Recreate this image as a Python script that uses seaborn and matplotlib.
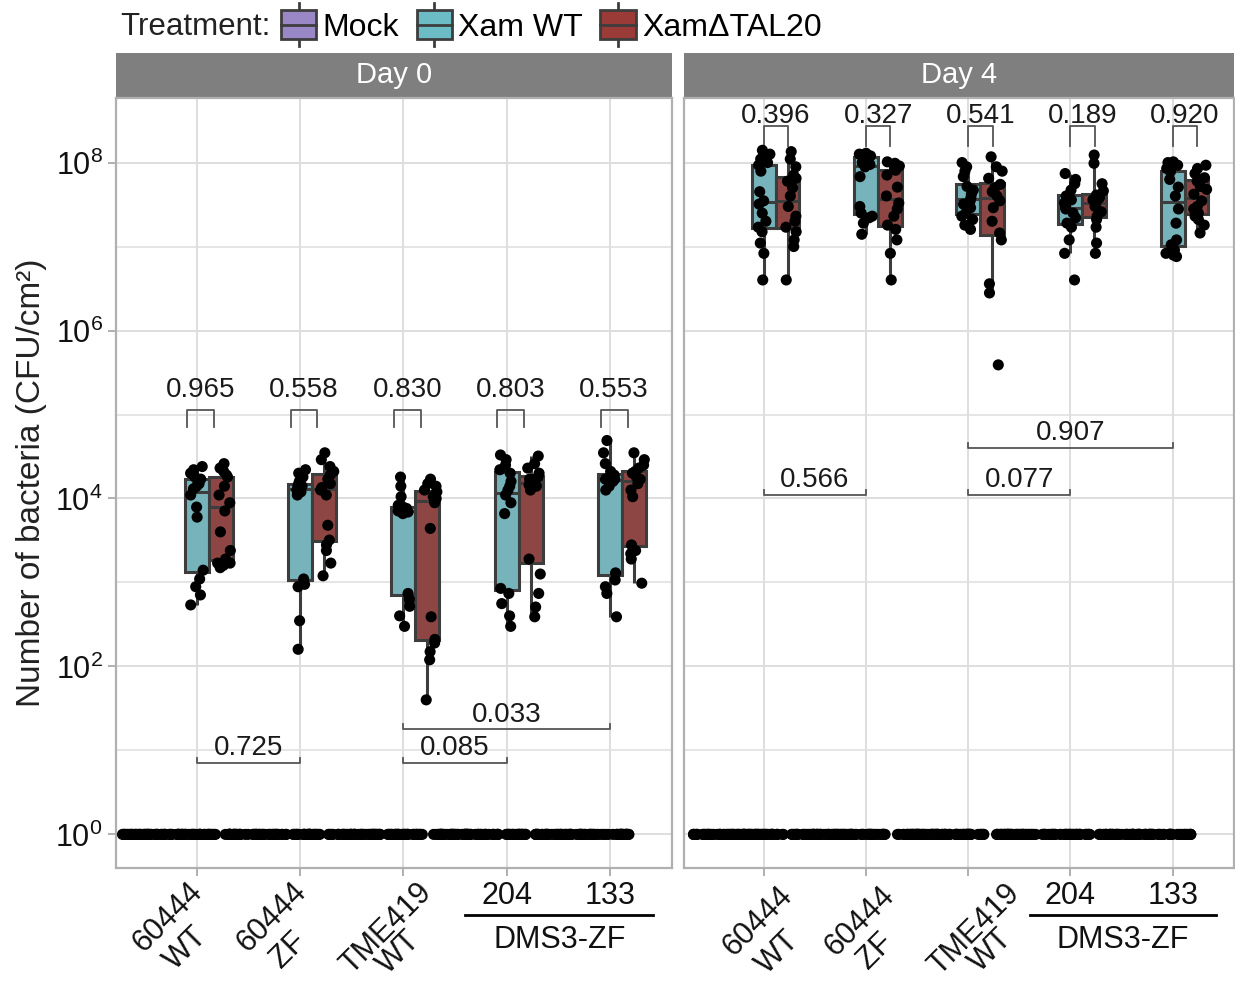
import numpy as np
import pandas as pd
import matplotlib
matplotlib.use("Agg")
import matplotlib.pyplot as plt
import seaborn as sns
from matplotlib.patches import Rectangle, Patch
from matplotlib.lines import Line2D
from matplotlib.legend_handler import HandlerBase
from matplotlib.ticker import FixedLocator, NullFormatter

genotypes = ["60444 WT", "60444 ZF", "TME419 WT", "204", "133"]
tick_labels = ["", "", "", "204", "133"]
rot_lines = [("60444", "WT"), ("60444", "ZF"), ("TME419", "WT")]
treatments = ["Mock", "Xam WT", "XamΔTAL20"]
days = ["Day 0", "Day 4"]
palette = {"Mock": "#9A88C6", "Xam WT": "#6CBCC6", "XamΔTAL20": "#9A3B38"}

# CFU/cm2, one list per genotype (order as genotypes)
d0_xam_wt = [
    [5.4e2, 7.1e2, 8.9e2, 1.1e3, 1.4e3, 6.0e3, 7.9e3, 1.1e4, 1.3e4, 1.4e4, 1.5e4, 1.7e4, 1.8e4, 2.0e4, 2.2e4, 2.4e4],
    [1.6e2, 3.5e2, 8.9e2, 9.5e2, 1.1e3, 1.1e4, 1.2e4, 1.26e4, 1.3e4, 1.35e4, 1.4e4, 1.45e4, 1.6e4, 1.8e4, 2.0e4, 2.2e4],
    [3.0e2, 4.0e2, 5.2e2, 6.3e2, 7.4e2, 6.6e3, 6.9e3, 7.1e3, 7.2e3, 7.4e3, 7.6e3, 7.9e3, 8.3e3, 1.05e4, 1.4e4, 1.8e4],
    [3.0e2, 4.0e2, 5.6e2, 7.4e2, 8.5e2, 6.6e3, 8.9e3, 1.1e4, 1.26e4, 1.4e4, 1.6e4, 2.0e4, 2.2e4, 2.5e4, 2.9e4, 3.3e4],
    [3.9e2, 7.4e2, 8.9e2, 1.07e3, 1.3e3, 1.26e4, 1.4e4, 1.6e4, 1.7e4, 1.7e4, 1.8e4, 1.9e4, 2.1e4, 2.6e4, 3.5e4, 4.9e4],
]
d0_xam_tal20 = [
    [1.5e3, 1.6e3, 1.7e3, 1.7e3, 1.9e3, 2.4e3, 4.0e3, 7.1e3, 8.9e3, 1.1e4, 1.4e4, 1.8e4, 1.9e4, 2.1e4, 2.3e4, 2.6e4],
    [1.2e3, 1.7e3, 2.4e3, 2.8e3, 3.2e3, 4.8e3, 1.1e4, 1.26e4, 1.35e4, 1.5e4, 1.7e4, 1.9e4, 2.1e4, 2.4e4, 2.9e4, 3.5e4],
    [40, 1.2e2, 1.5e2, 1.9e2, 2.1e2, 3.9e2, 4.4e3, 8.9e3, 1.0e4, 1.05e4, 1.1e4, 1.2e4, 1.26e4, 1.4e4, 1.5e4, 1.7e4],
    [3.9e2, 5.1e2, 7.4e2, 1.26e3, 1.9e3, 1.26e4, 1.4e4, 1.45e4, 1.6e4, 1.7e4, 1.7e4, 1.8e4, 2.0e4, 2.3e4, 2.6e4, 3.2e4],
    [9.8e2, 1.9e3, 2.2e3, 2.4e3, 2.8e3, 1.05e4, 1.26e4, 1.5e4, 1.7e4, 1.8e4, 2.0e4, 2.1e4, 2.3e4, 2.5e4, 2.9e4, 3.5e4],
]
d4_xam_wt = [
    [4.0e6, 8.3e6, 1.1e7, 1.5e7, 1.7e7, 2.0e7, 2.5e7, 3.2e7, 3.5e7, 4.5e7, 7.9e7, 9.3e7, 1.0e8, 1.1e8, 1.26e8, 1.4e8],
    [1.4e7, 1.9e7, 2.2e7, 2.3e7, 2.5e7, 3.0e7, 6.8e7, 8.9e7, 9.5e7, 1.0e8, 1.07e8, 1.17e8, 1.2e8, 1.23e8, 1.26e8, 1.29e8],
    [1.6e7, 1.8e7, 2.1e7, 2.3e7, 2.5e7, 2.9e7, 3.2e7, 3.5e7, 3.8e7, 4.2e7, 4.7e7, 5.2e7, 6.8e7, 7.9e7, 8.9e7, 1.0e8],
    [4.0e6, 8.3e6, 1.2e7, 1.7e7, 1.9e7, 2.2e7, 2.5e7, 2.8e7, 3.0e7, 3.3e7, 3.6e7, 4.0e7, 4.7e7, 5.6e7, 6.3e7, 7.4e7],
    [7.6e6, 7.9e6, 8.3e6, 9.1e6, 1.05e7, 1.2e7, 1.9e7, 2.8e7, 4.0e7, 5.1e7, 6.3e7, 7.8e7, 8.5e7, 9.3e7, 1.0e8, 1.02e8],
]
d4_xam_tal20 = [
    [4.0e6, 1.0e7, 1.2e7, 1.5e7, 1.7e7, 2.0e7, 2.3e7, 3.0e7, 4.0e7, 5.0e7, 6.0e7, 6.5e7, 7.1e7, 8.9e7, 1.1e8, 1.35e8],
    [4.0e6, 8.3e6, 1.2e7, 1.6e7, 1.8e7, 2.3e7, 2.8e7, 3.3e7, 4.0e7, 5.1e7, 7.1e7, 8.1e7, 8.5e7, 9.1e7, 9.8e7, 1.02e8],
    [3.9e5, 2.8e6, 3.6e6, 1.2e7, 1.45e7, 2.0e7, 2.9e7, 3.5e7, 4.0e7, 4.5e7, 5.0e7, 5.5e7, 6.5e7, 7.9e7, 8.9e7, 1.17e8],
    [8.3e6, 1.1e7, 1.7e7, 2.1e7, 2.3e7, 2.6e7, 3.0e7, 3.2e7, 3.4e7, 3.6e7, 3.8e7, 4.1e7, 4.6e7, 5.6e7, 9.8e7, 1.23e8],
    [1.45e7, 1.8e7, 2.1e7, 2.3e7, 2.5e7, 2.8e7, 3.0e7, 3.5e7, 4.2e7, 4.8e7, 5.2e7, 6.0e7, 6.6e7, 7.4e7, 8.5e7, 9.3e7],
]
# mock-inoculated leaves: no bacteria, plotted at 10^0
mock_cfu = [1] * 80

# p-values
d0_pair_p = ["0.965", "0.558", "0.830", "0.803", "0.553"]
d4_pair_p = ["0.396", "0.327", "0.541", "0.189", "0.920"]
d0_between = [(0, 1, "0.725"), (2, 3, "0.085"), (2, 4, "0.033")]
d4_between = [(0, 1, "0.566"), (2, 3, "0.077"), (2, 4, "0.907")]

rows = []
for day, wt_lists, tal_lists in [("Day 0", d0_xam_wt, d0_xam_tal20), ("Day 4", d4_xam_wt, d4_xam_tal20)]:
    for g, wt, tal in zip(genotypes, wt_lists, tal_lists):
        rows += [(day, g, "Mock", v) for v in mock_cfu]
        rows += [(day, g, "Xam WT", v) for v in wt]
        rows += [(day, g, "XamΔTAL20", v) for v in tal]
df = pd.DataFrame(rows, columns=["day", "genotype", "treatment", "cfu"])

plt.rcParams["font.family"] = ["Liberation Sans", "DejaVu Sans"]
plt.rcParams["mathtext.default"] = "regular"

np.random.seed(7)
line_col = "#3d3d3d"
grid_col = "#DEDEDE"
spine_col = "#B0B0B0"
brk_col = "#555555"
txt_col = "#1a1a1a"

fig = plt.figure(figsize=(12.35, 9.81), dpi=100)
ax0 = fig.add_axes([0.0939, 0.1152, 0.4502, 0.785])
ax1 = fig.add_axes([0.5538, 0.1152, 0.4454, 0.785])
axes = [ax0, ax1]

# placement of the hand-set rotated labels (px from tick / axis bottom): line 1, line 2
rot_pos = {
    "Day 0": [((-9, 9), (-4, 53)), ((-8, 9), (-9, 58)), ((13, 9), (2, 57))],
    "Day 4": [((14, 13), (20, 57)), ((13, 13), (12, 59)), ((36, 10), (29, 55))],
}
# pair bracket ends, relative to genotype centre
pair_span = {"Day 0": (-0.09, 0.17), "Day 4": (0.0, 0.24)}

for ax, day in zip(axes, days):
    sub = df[df["day"] == day]
    sns.boxplot(data=sub, x="genotype", y="cfu", hue="treatment", order=genotypes,
                hue_order=treatments, palette=palette, width=0.7, gap=0, dodge=True,
                showfliers=False, showcaps=False, linewidth=2.2, linecolor=line_col,
                log_scale=True, legend=False, ax=ax)
    sns.stripplot(data=sub[sub["treatment"] != "Mock"], x="genotype", y="cfu", hue="treatment",
                  order=genotypes, hue_order=treatments, palette={t: "black" for t in treatments},
                  dodge=True, jitter=0.2, size=8, linewidth=0, log_scale=True, legend=False, ax=ax)
    sns.stripplot(data=sub[sub["treatment"] == "Mock"], x="genotype", y="cfu", hue="treatment",
                  order=genotypes, hue_order=treatments, palette={t: "black" for t in treatments},
                  dodge=True, jitter=1.38, size=8, linewidth=0, log_scale=True, legend=False, ax=ax)

    ax.set_xlim(-0.78, 4.6)
    ax.set_ylim(10 ** -0.4, 10 ** 8.77)
    ax.set_yticks([1, 1e2, 1e4, 1e6, 1e8])
    ax.set_yticklabels([r"$10^{0}$", r"$10^{2}$", r"$10^{4}$", r"$10^{6}$", r"$10^{8}$"], fontsize=22)
    ax.yaxis.set_minor_locator(FixedLocator([10, 1e3, 1e5, 1e7]))
    ax.yaxis.set_minor_formatter(NullFormatter())
    ax.set_xticks(range(len(genotypes)))
    ax.set_xticklabels(tick_labels, fontsize=22)
    ax.grid(True, which="major", color=grid_col, lw=1.4)
    ax.grid(True, which="minor", axis="y", color=grid_col, lw=1.1)
    ax.set_axisbelow(True)
    ax.tick_params(axis="both", which="major", color=spine_col, length=6, width=1.4, labelcolor="#111111")
    ax.tick_params(axis="y", which="minor", length=0)
    for sp in ax.spines.values():
        sp.set_color(spine_col)
        sp.set_linewidth(1.6)
    ax.set_xlabel("")
    ax.set_ylabel("")

    xt = ax.get_xaxis_transform()
    # rotated two-line genotype labels
    for g, (lines, offs) in enumerate(zip(rot_lines, rot_pos[day])):
        for txt, (dx, dy) in zip(lines, offs):
            ax.annotate(txt, xy=(g, 0), xycoords=xt, xytext=(dx * 0.72, -dy * 0.72),
                        textcoords="offset points", rotation=45, rotation_mode="anchor",
                        ha="right", va="top", fontsize=22, color="#111111", annotation_clip=False)

    # facet strip
    ax.add_patch(Rectangle((0, 1.0), 1, 0.0585, transform=ax.transAxes, clip_on=False,
                           facecolor="#7F7F7F", edgecolor="none"))
    ax.text(0.5, 1.0292, day, transform=ax.transAxes, ha="center", va="center",
            color="white", fontsize=21)

    # DMS3-ZF group label
    ax.plot([2.6, 4.42], [-0.061, -0.061], transform=xt, clip_on=False, color="black", lw=2)
    ax.text(3.51, -0.093, "DMS3-ZF", transform=xt, ha="center", va="center", fontsize=22,
            color="#111111")

ax1.tick_params(axis="y", which="both", length=0, labelleft=False)
ax0.set_ylabel("Number of bacteria (CFU/cm²)", fontsize=24, color="#222222", labelpad=6)


def pair_bracket(ax, g, span, p, y_top, y_leg, y_txt):
    xa, xb = g + span[0], g + span[1]
    ax.plot([xa, xa, xb, xb], [y_leg, y_top, y_top, y_leg], color=brk_col, lw=1.3)
    ax.text((xa + xb) / 2, y_txt, p, ha="center", va="center", fontsize=20, color=txt_col)


def between_bracket(ax, ga, gb, p, y_line):
    y_tick = y_line * 10 ** 0.06
    ax.plot([ga, ga, gb, gb], [y_tick, y_line, y_line, y_tick], color=brk_col, lw=1.3)
    ax.text((ga + gb) / 2, y_line * 10 ** 0.02, p, ha="center", va="bottom", fontsize=20,
            color=txt_col)


for g, p in enumerate(d0_pair_p):
    pair_bracket(ax0, g, pair_span["Day 0"], p, 10 ** 5.05, 10 ** 4.85, 10 ** 5.29)
for g, p in enumerate(d4_pair_p):
    pair_bracket(ax1, g, pair_span["Day 4"], p, 10 ** 8.43, 10 ** 8.2, 10 ** 8.56)
for (ga, gb, p), yl in zip(d0_between, [10 ** 0.85, 10 ** 0.85, 10 ** 1.25]):
    between_bracket(ax0, ga, gb, p, yl)
for (ga, gb, p), yl in zip(d4_between, [10 ** 4.04, 10 ** 4.04, 10 ** 4.6]):
    between_bracket(ax1, ga, gb, p, yl)


class BoxKey(HandlerBase):
    def create_artists(self, legend, orig_handle, xdescent, ydescent, width, height, fontsize, trans):
        x0, y0 = -xdescent, -ydescent
        cx = x0 + width / 2
        wh = Line2D([cx, cx], [y0 - height * 0.3, y0 + height * 1.3], color=line_col, lw=2, transform=trans)
        box = Rectangle((x0, y0 - height * 0.05), width, height * 1.1, facecolor=orig_handle.get_facecolor(),
                        edgecolor=line_col, lw=2, transform=trans)
        med = Line2D([x0, x0 + width], [y0 + height * 0.5] * 2, color=line_col, lw=2, transform=trans)
        return [wh, box, med]


handles = [Patch(facecolor=palette[t]) for t in treatments]
fig.text(120 / 1235, 1 - 27 / 981, "Treatment:", ha="left", va="center", fontsize=22.5, color="#222222")
fig.legend(handles, treatments, handler_map={Patch: BoxKey()}, loc="center left",
           bbox_to_anchor=(281 / 1235, 1 - 27 / 981), ncol=3, frameon=False, fontsize=23,
           handlelength=1.1, handleheight=0.9, handletextpad=0.2, columnspacing=0.55,
           borderaxespad=0, borderpad=0)

fig.savefig("out.png", dpi=100)
